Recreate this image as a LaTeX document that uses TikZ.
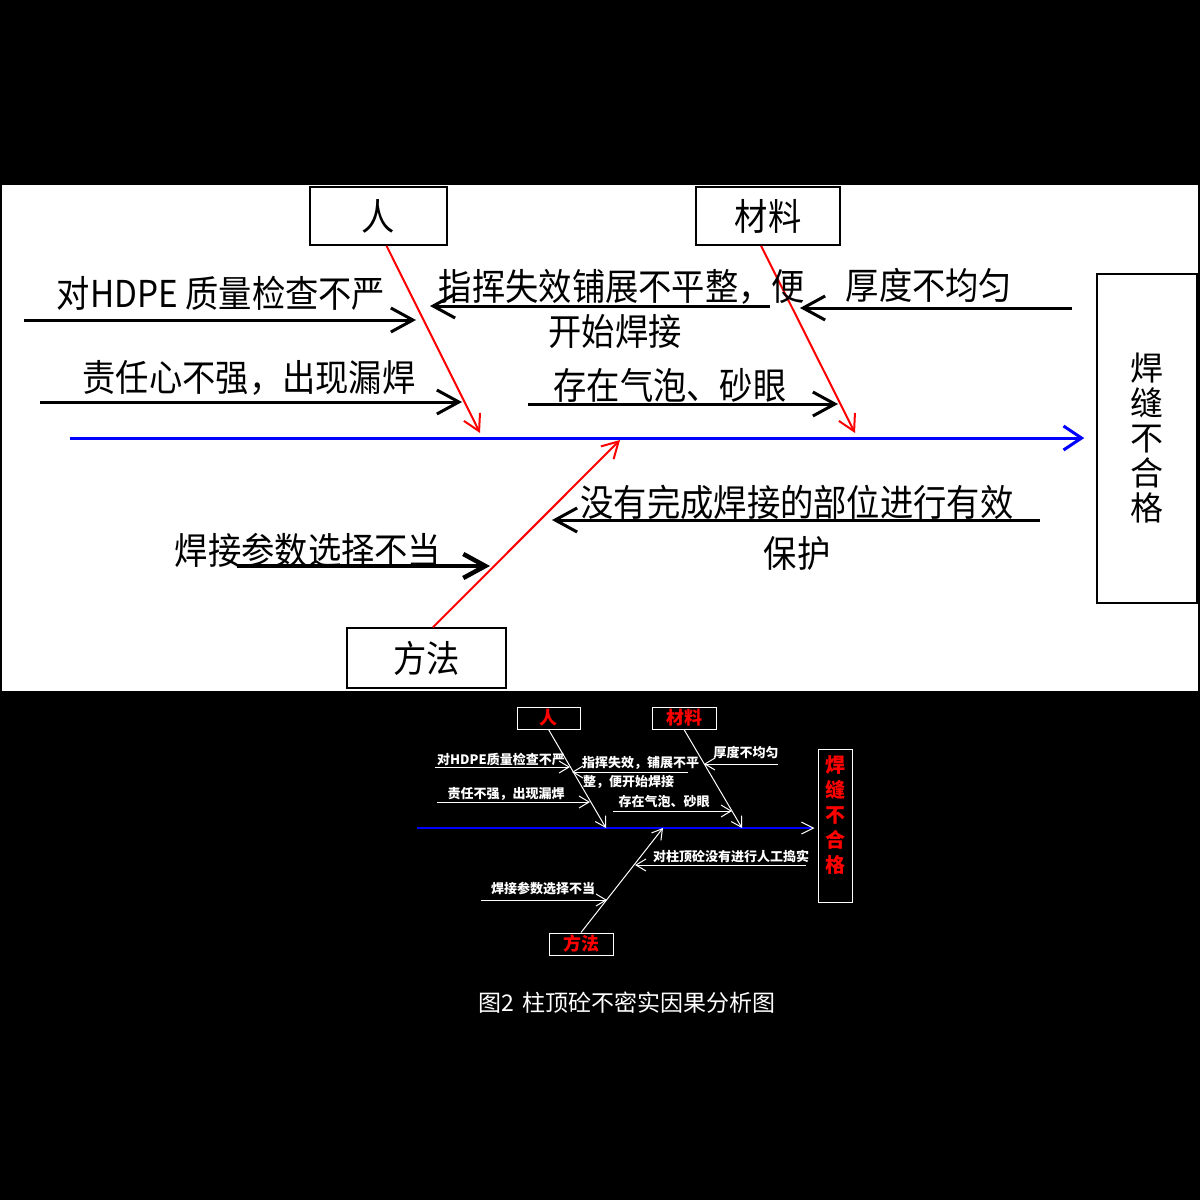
\documentclass[tikz,border=0pt]{standalone}
\usepackage{fontspec}
\usepackage{graphicx}
\usetikzlibrary{arrows.meta}
\newfontfamily\cjk{Noto Sans CJK SC}
\newcommand\bigtxt[1]{\scalebox{0.9}[1]{\fontsize{37}{40}\selectfont\cjk #1}}
\newcommand\smtxt[1]{{\fontsize{13}{14}\selectfont\cjk\bfseries #1}}
\newcommand\smred[1]{{\fontsize{18}{20}\selectfont\cjk\bfseries #1}}
\tikzset{
  bigbox/.style={draw=black, line width=1.5pt, fill=white, inner sep=0pt},
  smallbox/.style={draw=white, line width=1pt, inner sep=0pt, text=red},
  txt/.style={inner sep=0pt, text=black},
  wtxt/.style={inner sep=0pt, text=white},
  bigcause/.style={draw=black, line width=3pt, -{Straight Barb[length=22pt,width=24pt]}},
  redbone/.style={draw=red, line width=2pt, -{Straight Barb[length=16pt,width=18pt]}},
  spine/.style={draw=blue, line width=3pt, -{Straight Barb[length=18pt,width=24pt]}},
  spinesm/.style={draw=blue, line width=1.5pt, -{Straight Barb[length=12pt,width=12pt,color=white,line width=1pt]}},
  wbone/.style={draw=white, line width=1pt, -{Straight Barb[length=10pt,width=12pt]}},
  wcause/.style={draw=white, line width=1pt, -{Straight Barb[length=10pt,width=12pt]}}
}
\begin{document}
\begin{tikzpicture}[x=1pt,y=-1pt]
\fill[black] (0,0) rectangle (1200,1200);
\useasboundingbox (0,0) rectangle (1200,1200);
\fill[white] (2,185) rectangle (1198,691);

% ---------- large diagram ----------
\node[bigbox, minimum width=137pt, minimum height=58pt] (P) at (378.5,216) {\bigtxt{人}};
\node[bigbox, minimum width=144pt, minimum height=58pt] (M) at (768,216) {\bigtxt{材料}};
\node[bigbox, minimum width=159pt, minimum height=60pt] (F) at (426.5,658) {\bigtxt{方法}};
\node[bigbox, minimum width=100pt, minimum height=329pt, align=center,
      font=\fontsize{33}{35}\selectfont\cjk] (E) at (1147,438.5) {焊\\缝\\不\\合\\格};

\coordinate (S1) at (70,438);
\draw[spine, shorten >=12pt] (S1) -- (S1 -| E.west);

\coordinate (PB) at (480,433);
\coordinate (MB) at (855,433);
\coordinate (FB) at (620,440);
\draw[redbone] ([xshift=8pt]P.south) -- (PB);
\draw[redbone] ([xshift=-7pt]M.south) -- (MB);
\draw[redbone] ([xshift=6.5pt]F.north) -- (FB);

% causes
\coordinate (c1a) at (24,320);   \coordinate (c1b) at (416,320);
\coordinate (c2a) at (770,306);  \coordinate (c2b) at (430,306);
\coordinate (c3a) at (1072,308); \coordinate (c3b) at (800,308);
\coordinate (c4a) at (40,402);   \coordinate (c4b) at (462,402);
\coordinate (c5a) at (528,404);  \coordinate (c5b) at (838,404);
\coordinate (c6a) at (1040,520); \coordinate (c6b) at (552,520);
\coordinate (c7a) at (237,566);  \coordinate (c7b) at (490,566);

\node[txt] (t1) at (221,293) {\bigtxt{对HDPE 质量检查不严}};
\node[txt] (t2a) at (622,287) {\bigtxt{指挥失效铺展不平整，便}};
\node[txt] (t2b) at (615,331) {\bigtxt{开始焊接}};
\node[txt] (t3) at (929,285) {\bigtxt{厚度不均匀}};
\node[txt] (t4) at (249,378) {\bigtxt{责任心不强，出现漏焊}};
\node[txt] (t5) at (670,385) {\bigtxt{存在气泡、砂眼}};
\node[txt] (t6a) at (797,502) {\bigtxt{没有完成焊接的部位进行有效}};
\node[txt] (t6b) at (797,553) {\bigtxt{保护}};
\node[txt] (t7) at (308,550) {\bigtxt{焊接参数选择不当}};

\draw[bigcause] (c1a) -- (c1b);
\draw[bigcause] (c2a) -- (c2b);
\draw[bigcause] (c3a) -- (c3b);
\draw[bigcause] (c4a) -- (c4b);
\draw[bigcause] (c5a) -- (c5b);
\draw[bigcause] (c6a) -- (c6b);
\draw[bigcause, line width=4.5pt] (c7a) -- (c7b);

% ---------- small diagram ----------
\node[smallbox, minimum width=63pt, minimum height=22pt] (P2) at (548.5,718) {\smred{人}};
\node[smallbox, minimum width=64pt, minimum height=22pt] (M2) at (684,718) {\smred{材料}};
\node[smallbox, minimum width=64pt, minimum height=22pt] (F2) at (581,944) {\smred{方法}};
\node[smallbox, minimum width=34pt, minimum height=153pt] (E2) at (835,825.5) {};
\node[inner sep=0pt, text=red, align=center, font=\fontsize{20}{25}\selectfont\cjk\bfseries] (E2t) at (835,815) {焊\\缝\\不\\合\\格};

\coordinate (S2) at (417,828);
\draw[spinesm, shorten >=3pt] (S2) -- (S2 -| E2.west);

\coordinate (PB2) at (606,828);
\coordinate (MB2) at (742,828);
\coordinate (FB2) at (663,828);
\draw[wbone] (P2.south) -- (PB2);
\draw[wbone] (M2.south) -- (MB2);
\draw[wbone] (F2.north) -- (FB2);

\coordinate (d1a) at (435,767); \coordinate (d1b) at (570,767);
\coordinate (d2a) at (688,772); \coordinate (d2b) at (572,772);
\coordinate (d3a) at (778,764); \coordinate (d3b) at (704,764);
\coordinate (d4a) at (437,802); \coordinate (d4b) at (590,802);
\coordinate (d5a) at (613,811); \coordinate (d5b) at (732,811);
\coordinate (d6a) at (806,865); \coordinate (d6b) at (635,865);
\coordinate (d7a) at (481,900); \coordinate (d7b) at (607,900);

\draw[wcause] (d1a) -- (d1b);
\draw[wcause] (d2a) -- (d2b);
\draw[wcause] (d3a) -- (d3b);
\draw[wcause] (d4a) -- (d4b);
\draw[wcause] (d5a) -- (d5b);
\draw[wcause] (d6a) -- (d6b);
\draw[wcause] (d7a) -- (d7b);

\node[wtxt] (u1) at (501,759) {\smtxt{对HDPE质量检查不严}};
\node[wtxt, anchor=west] (u2a) at (582,763) {\smtxt{指挥失效，铺展不平}};
\node[wtxt, anchor=west] (u2b) at (583,782) {\smtxt{整，便开始焊接}};
\node[wtxt] (u3) at (746,753) {\smtxt{厚度不均匀}};
\node[wtxt] (u4) at (506,794) {\smtxt{责任不强，出现漏焊}};
\node[wtxt] (u5) at (664,802) {\smtxt{存在气泡、砂眼}};
\node[wtxt] (u6) at (731,856) {\smtxt{对柱顶砼没有进行人工捣实}};
\node[wtxt] (u7) at (543,889) {\smtxt{焊接参数选择不当}};

\node[wtxt, font=\fontsize{23}{25}\selectfont\cjk] (cap) at (627,1003) {图2\hspace{8pt}柱顶砼不密实因果分析图};
\end{tikzpicture}
\end{document}
